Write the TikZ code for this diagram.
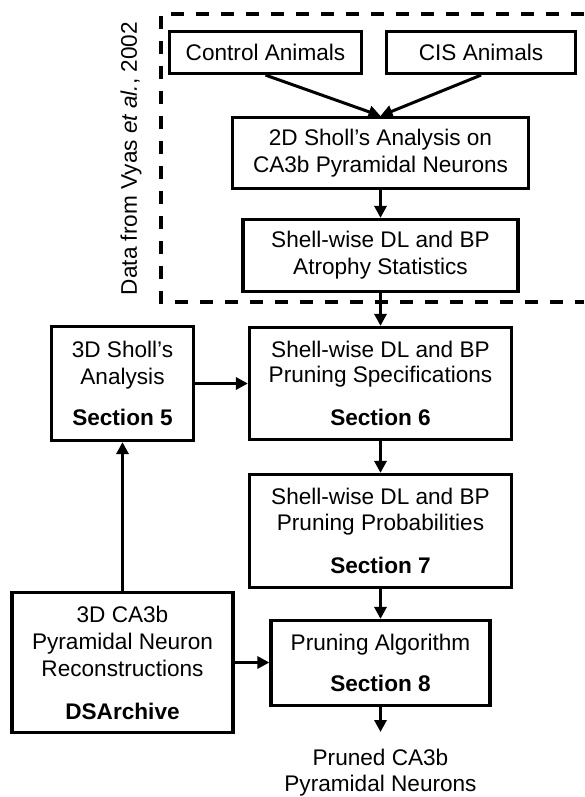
\documentclass[tikz,border=0pt]{standalone}
\usepackage{fontspec}
\setmainfont{Liberation Sans}
\usetikzlibrary{arrows.meta}
\begin{document}
\begin{tikzpicture}[x=1pt,y=-1pt,
  box/.style={draw, line width=3.2pt, align=center, inner sep=0pt,
    font=\fontsize{22.6}{27}\selectfont},
  label/.style={align=center, inner sep=0pt, font=\fontsize{22.6}{27}\selectfont},
  flow/.style={line width=3pt, -{Triangle[length=12pt,width=12pt]}},
  frame/.style={line width=3.3pt, dash pattern=on 13pt off 12pt}]
\useasboundingbox (0,0) rectangle (584,797);

% source data block
\draw[frame] (584,14) -- (161,14) -- (161,302) -- (584,302);
\node[label, rotate=90] (src) at (131,158.5) {Data from Vyas \textit{et al.}, 2002};

\node[box, minimum width=192pt, minimum height=42pt] (ctrl) at (265.5,52.5) {Control Animals};
\node[box, minimum width=189pt, minimum height=42pt] (cis) at (481,52.5) {CIS Animals};
\node[box, minimum width=296pt, minimum height=71pt] (sholl2d) at (380.5,153)
  {2D Sholl’s Analysis on\\CA3b Pyramidal Neurons};
\node[box, minimum width=275pt, minimum height=72pt] (atrophy) at (380.5,255.5)
  {Shell-wise DL and BP\\Atrophy Statistics};

% modelling pipeline
\node[box, minimum width=142pt, minimum height=114pt] (s5) at (122.5,383.5)
  {3D Sholl’s\\Analysis\\[14pt]\textbf{Section 5}};
\node[box, minimum width=262pt, minimum height=112pt] (s6) at (380.5,383.5)
  {Shell-wise DL and BP\\[-2pt]Pruning Specifications\\[16pt]\textbf{Section 6}};
\node[box, minimum width=262pt, minimum height=113pt] (s7) at (380.5,531)
  {Shell-wise DL and BP\\[-1pt]Pruning Probabilities\\[16pt]\textbf{Section 7}};
\node[box, minimum width=221pt, minimum height=140pt] (ds) at (122.5,662.5)
  {3D CA3b\\Pyramidal Neuron\\Reconstructions\\[16pt]\textbf{DSArchive}};
\node[box, minimum width=219pt, minimum height=85pt] (s8) at (380.5,663)
  {Pruning Algorithm\\[14pt]\textbf{Section 8}};
\node[label] (out) at (380.5,773) {Pruned CA3b\\[-1pt]Pyramidal Neurons};
\coordinate (outtip) at (380.5,732);

% connectors
\draw[flow] (ctrl.south) -- (sholl2d.north);
\draw[flow] (cis.south) -- (sholl2d.north);
\draw[flow] (sholl2d.south) -- (atrophy.north);
\draw[flow] (atrophy.south) -- (s6.north);
\draw[flow] (s5.east) -- (s6.west);
\draw[flow] (s6.south) -- (s7.north);
\draw[flow] (s7.south) -- (s8.north);
\draw[flow] (ds.north) -- (s5.south);
\draw[flow] (ds.east) -- (ds.east -| s8.west);
\draw[flow] (s8.south) -- (outtip);
\end{tikzpicture}
\end{document}
